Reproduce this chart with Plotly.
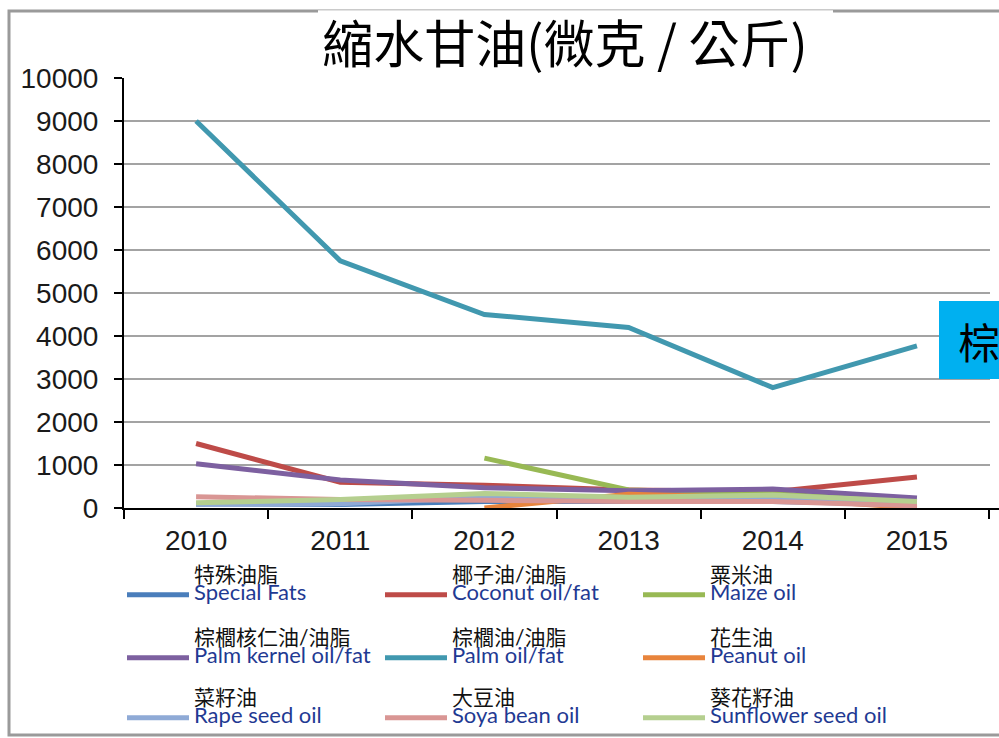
import plotly.graph_objects as go

years = ["2010", "2011", "2012", "2013", "2014", "2015"]

special_fats = [100, 80, 150, 150, 150, 80]
coconut = [1500, 600, 530, 420, 380, 720]
maize = [None, None, 1160, 420, 330, 150]
palm_kernel = [1030, 650, 470, 400, 440, 230]
palm_oil = [9000, 5750, 4500, 4200, 2800, 3770]
peanut = [None, None, 0, 320, 230, 0]
rape_seed = [80, 100, 250, 200, 200, 100]
soya_bean = [260, 200, 180, 150, 150, 50]
sunflower = [120, 200, 340, 250, 300, 150]

names_zh = ["特殊油脂", "椰子油/油脂", "粟米油",
            "棕櫚核仁油/油脂", "棕櫚油/油脂", "花生油",
            "菜籽油", "大豆油", "葵花籽油"]
names_en = ["Special Fats", "Coconut oil/fat", "Maize oil",
            "Palm kernel oil/fat", "Palm oil/fat", "Peanut oil",
            "Rape seed oil", "Soya bean oil", "Sunflower seed oil"]
series = [special_fats, coconut, maize, palm_kernel, palm_oil, peanut,
          rape_seed, soya_bean, sunflower]
colors = ["#4A7EBB", "#BE4B48", "#98B954", "#7D60A0", "#4198AF", "#E8843C",
          "#8FAAD6", "#D99694", "#B5CF8F"]

title_text = "縮水甘油(微克 / 公斤)"
y_ticks = list(range(0, 10001, 1000))
y_labels = [str(v) for v in y_ticks]

W, H = 999, 738
L, R, T, B = 124, 999, 78, 508
CAT_W = 144.17  # pixels per category in the reference


def px_x(px):
    return (px - L) / (R - L)


def px_y(py):
    return (B - py) / (B - T)


fig = go.Figure()
col_x = [122, 380, 638]
row_y = [561, 624, 684]
layout_legends = {}
for i, (vals, zh, en, c) in enumerate(zip(series, names_zh, names_en, colors)):
    key = "legend" if i == 0 else f"legend{i+1}"
    fig.add_trace(go.Scatter(
        x=years, y=vals, mode="lines", connectgaps=False,
        line=dict(color=c, width=5),
        name=(f"<span style='font-size:21px;color:#111111'>{zh}</span><br>"
              f"<span style='font-size:22px;color:#1F3A93'>{en}</span>"),
        legend=key, showlegend=True,
    ))
    r, cc = divmod(i, 3)
    layout_legends[key] = dict(
        x=px_x(col_x[cc]), y=px_y(row_y[r]), xanchor="left", yanchor="top",
        bgcolor="rgba(0,0,0,0)", borderwidth=0, itemwidth=62, valign="bottom",
        font=dict(family="Lato, Noto Sans CJK TC", size=14, color="#111111"),
        itemclick=False, itemdoubleclick=False,
    )

fig.update_layout(
    template="none",
    width=W, height=H,
    margin=dict(l=L, r=W - R, t=T, b=H - B, pad=0),
    paper_bgcolor="white", plot_bgcolor="white",
    title=dict(text=title_text, x=565 / W, y=1 - 45 / H, xanchor="center", yanchor="middle",
               font=dict(family="Noto Sans CJK TC", size=51, color="black")),
    xaxis=dict(type="category", range=[-0.5, -0.5 + (R - L) / CAT_W], tickson="boundaries",
               ticks="outside", ticklen=9, tickcolor="black", tickwidth=2, showline=True,
               linecolor="black", linewidth=2, showgrid=False, ticklabelstandoff=6,
               automargin=False, zeroline=False,
               tickfont=dict(family="Liberation Sans", size=28, color="#1a1a1a")),
    yaxis=dict(range=[0, 10000], tickvals=y_ticks, ticktext=y_labels, ticks="outside",
               ticklen=8, tickcolor="black", tickwidth=2, showline=True, linecolor="black",
               linewidth=2, showgrid=True, gridcolor="#A3A3A3", gridwidth=2, zeroline=False,
               ticklabelstandoff=10, automargin=False,
               tickfont=dict(family="Liberation Sans", size=28, color="#1a1a1a")),
    showlegend=True,
    **layout_legends,
)

# outer frame and title box
fig.add_shape(type="rect", xref="paper", yref="paper",
              x0=px_x(9), x1=px_x(1100), y0=px_y(735), y1=px_y(11),
              line=dict(color="#9A9A9A", width=3), fillcolor="rgba(0,0,0,0)", layer="below")
fig.add_shape(type="rect", xref="paper", yref="paper",
              x0=px_x(318), x1=px_x(833), y0=px_y(70), y1=px_y(10),
              line=dict(width=0), fillcolor="white", layer="above")
fig.add_shape(type="line", xref="paper", yref="paper",
              x0=px_x(318), x1=px_x(833), y0=px_y(10), y1=px_y(10),
              line=dict(color="#C8C8C8", width=1), layer="above")
# gridlines end a little before the figure edge in the reference
fig.add_shape(type="rect", xref="paper", yref="paper",
              x0=px_x(990), x1=px_x(1100), y0=px_y(506), y1=px_y(70),
              line=dict(width=0), fillcolor="white", layer="above")
# cut-off blue text box on the right
fig.add_shape(type="rect", xref="paper", yref="paper",
              x0=px_x(939), x1=px_x(1100), y0=px_y(379), y1=px_y(301),
              line=dict(width=0), fillcolor="#00B0F0", layer="above")
fig.add_annotation(text="棕櫚油", xref="paper", yref="paper", x=px_x(956), y=px_y(340),
                   xanchor="left", yanchor="middle", showarrow=False,
                   font=dict(family="Noto Sans CJK TC", size=42, color="black"))

fig.write_html("out.html", config={"displayModeBar": False},
               post_script="document.body.style.margin='0px';document.body.style.overflow='hidden';")
